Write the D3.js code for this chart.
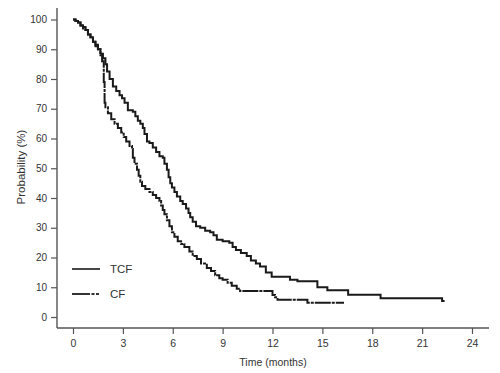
<!DOCTYPE html>
<html>
<head>
<meta charset="utf-8">
<script src="https://cdn.jsdelivr.net/npm/d3@7"></script>
<style>
  body { margin: 0; background: #fff; }
  svg { display: block; font-family: "Liberation Sans", Arial, sans-serif; }
</style>
</head>
<body>
<div id="chart"></div>
<script>
// Kaplan-Meier step data (time in months, survival in %)
const tcfTimes = [0, 0.15, 0.3, 0.45, 0.6, 0.75, 0.9, 1.05, 1.2, 1.35, 1.5, 1.65, 1.8, 1.95, 2.05, 2.2, 2.4, 2.6, 2.8, 2.95,
  3.1, 3.3, 3.6, 3.75, 3.9, 4.05, 4.2, 4.3, 4.45, 4.6, 4.8, 5.0, 5.2, 5.4, 5.5, 5.65, 5.75, 5.85, 5.95, 6.1,
  6.25, 6.45, 6.6, 6.8, 6.95, 7.05, 7.2, 7.4, 7.65, 7.95, 8.25, 8.45, 8.65, 9.0, 9.4, 9.6, 9.8, 10.1, 10.45, 10.7,
  11.0, 11.25, 11.6, 11.95, 13.05, 13.5, 14.7, 15.3, 16.55, 18.5, 22.2, 22.35];
const tcfSurv = [100, 99.5, 99, 98, 97.5, 96.5, 95, 94, 92.5, 91.5, 90, 88.5, 87, 85, 82.5, 80, 77.5, 76, 74.5, 73.5,
  72, 69.5, 69, 67.5, 66, 65, 63.5, 61.5, 59, 58.5, 57, 55.5, 54, 53.5, 51.5, 49.5, 47, 45, 43.5, 42,
  40.5, 39, 38, 36.5, 35, 33.5, 32, 30.5, 30, 29, 28.5, 27.5, 26, 25.5, 25, 23.5, 22.5, 21.5, 20.5, 19,
  18, 17, 15, 13.5, 12.5, 12, 10, 9, 7.5, 6.3, 5.4, 5.4];

const cfTimes = [0, 0.15, 0.3, 0.45, 0.6, 0.75, 0.9, 1.05, 1.2, 1.35, 1.5, 1.65, 1.75, 1.85, 1.9, 1.95, 2.1, 2.3, 2.5, 2.7,
  2.9, 3.05, 3.2, 3.4, 3.55, 3.6, 3.7, 3.85, 3.95, 4.05, 4.15, 4.35, 4.6, 4.8, 5.0, 5.2, 5.3, 5.4, 5.5, 5.65,
  5.8, 5.95, 6.1, 6.3, 6.5, 6.7, 7.0, 7.2, 7.45, 7.7, 8.05, 8.3, 8.55, 8.8, 9.0, 9.3, 9.55, 9.85, 10.05, 12.0,
  12.15, 12.3, 14.1, 16.3];
const cfSurv = [100, 99.5, 99, 98, 97, 96.5, 95, 94, 92.5, 91, 90, 88, 86, 79, 72, 70.5, 68.5, 66.5, 65, 63.5,
  62, 60.5, 59, 57.5, 56.5, 53.5, 51.5, 49.5, 47.5, 45.5, 44, 43, 42, 41, 40, 39, 37.5, 36, 34.5, 32.5,
  30.5, 28.5, 27, 25.5, 24.5, 23.5, 22, 20.5, 19.5, 18, 16.5, 15.5, 14, 13, 12.5, 11.5, 10.5, 9.5, 8.7, 7.4,
  6.6, 5.8, 4.8, 4.8];

const xTicks = [0, 3, 6, 9, 12, 15, 18, 21, 24];
const yTicks = [0, 10, 20, 30, 40, 50, 60, 70, 80, 90, 100];
const seriesNames = ["TCF", "CF"];

const width = 500, height = 373;
const axisX = 57, axisY = 328;

const svg = d3.select("#chart").append("svg")
  .attr("width", width)
  .attr("height", height);

const x = d3.scaleLinear().domain([0, 24]).range([73, 472]);
const y = d3.scaleLinear().domain([0, 100]).range([317, 19.5]);

const axisColor = "#555";
const textColor = "#333";

// axis lines (extend past the tick range like the original)
svg.append("line")
  .attr("x1", axisX).attr("x2", axisX)
  .attr("y1", 8).attr("y2", axisY)
  .attr("stroke", axisColor).attr("stroke-width", 1.4);
svg.append("line")
  .attr("x1", axisX).attr("x2", 489)
  .attr("y1", axisY).attr("y2", axisY)
  .attr("stroke", axisColor).attr("stroke-width", 1.4);

const xAxis = svg.append("g")
  .attr("transform", `translate(0,${axisY})`)
  .call(d3.axisBottom(x).tickValues(xTicks).tickSize(6).tickSizeOuter(0).tickPadding(6));
xAxis.select(".domain").remove();
xAxis.selectAll("line").attr("stroke", axisColor).attr("stroke-width", 1.2);
xAxis.selectAll("text").attr("fill", textColor).style("font-size", "10.5px");

const yAxis = svg.append("g")
  .attr("transform", `translate(${axisX},0)`)
  .call(d3.axisLeft(y).tickValues(yTicks).tickSize(6).tickSizeOuter(0).tickPadding(4));
yAxis.select(".domain").remove();
yAxis.selectAll("line").attr("stroke", axisColor).attr("stroke-width", 1.2);
yAxis.selectAll("text").attr("fill", textColor).style("font-size", "10px");

// axis titles
svg.append("text")
  .attr("x", 273).attr("y", 366)
  .attr("text-anchor", "middle")
  .attr("fill", textColor)
  .style("font-size", "10.5px")
  .text("Time (months)");

svg.append("text")
  .attr("transform", "translate(25,167) rotate(-90)")
  .attr("text-anchor", "middle")
  .attr("fill", textColor)
  .style("font-size", "11.5px")
  .text("Probability (%)");

// survival curves
const line = d3.line()
  .x(d => x(d[0]))
  .y(d => y(d[1]))
  .curve(d3.curveStepAfter);

const tcfData = tcfTimes.map((t, i) => [t, tcfSurv[i]]);
const cfData = cfTimes.map((t, i) => [t, cfSurv[i]]);

svg.append("path")
  .datum(tcfData)
  .attr("d", line)
  .attr("fill", "none")
  .attr("stroke", "#1a1a1a")
  .attr("stroke-width", 2);

svg.append("path")
  .datum(cfData)
  .attr("d", line)
  .attr("fill", "none")
  .attr("stroke", "#1a1a1a")
  .attr("stroke-width", 2)
  .attr("stroke-dasharray", "16,1,3,1");

// legend
const legend = svg.append("g");
seriesNames.forEach((name, i) => {
  const ly = 269 + i * 25;
  legend.append("line")
    .attr("x1", 72).attr("x2", 100)
    .attr("y1", ly).attr("y2", ly)
    .attr("stroke", "#333")
    .attr("stroke-width", 1.8)
    .attr("stroke-dasharray", i === 1 ? "18,1.5,3,1.5,3,1.5" : null);
  legend.append("text")
    .attr("x", 110).attr("y", ly)
    .attr("dy", "0.36em")
    .attr("fill", textColor)
    .style("font-size", "11.5px")
    .text(name);
});
</script>
</body>
</html>
